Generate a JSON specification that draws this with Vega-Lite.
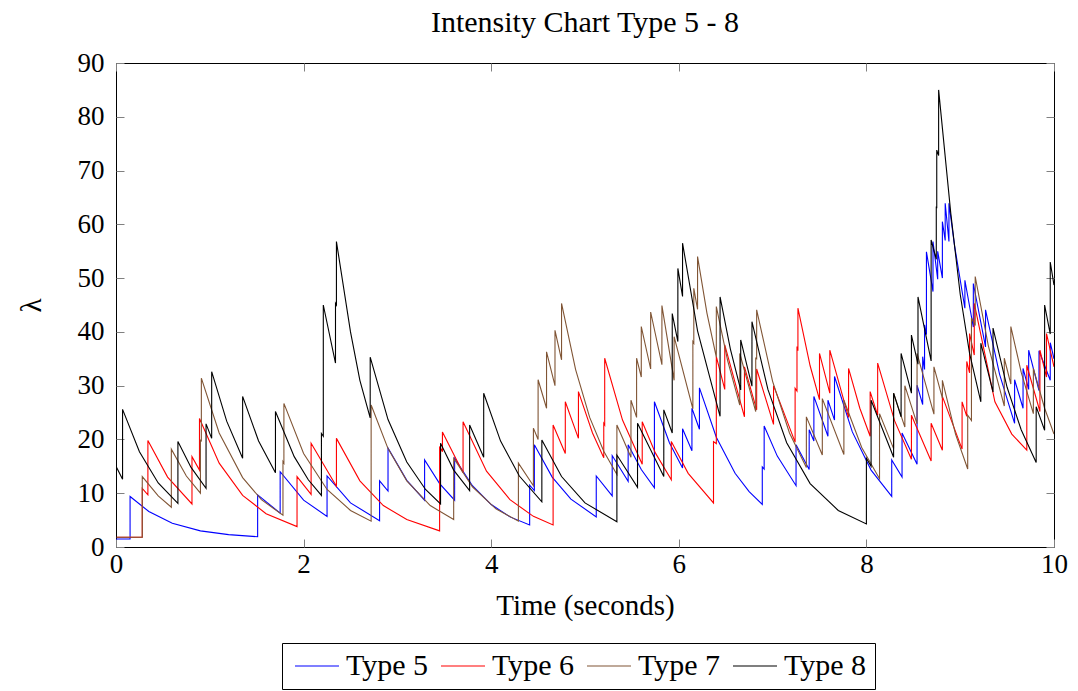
{
  "$schema": "https://vega.github.io/schema/vega-lite/v6.json",
  "width": 938,
  "height": 484,
  "autosize": {"type": "none"},
  "padding": {"left": 116, "top": 63, "right": 24, "bottom": 144},
  "background": "#ffffff",
  "config": {
    "view": {"stroke": "#000000", "strokeWidth": 1},
    "font": "Liberation Serif",
    "axis": {
      "labelFont": "Liberation Serif", "titleFont": "Liberation Serif",
      "labelFontSize": 27, "titleFontSize": 29, "titleFontWeight": "normal",
      "labelColor": "#000000", "titleColor": "#000000",
      "domain": false, "grid": false, "labelFlush": false,
      "tickColor": "#808080", "tickSize": -8, "tickWidth": 1
    }
  },
  "title": {"text": "Intensity Chart Type 5 - 8", "font": "Liberation Serif", "fontSize": 30, "fontWeight": "normal", "color": "#000000", "anchor": "middle", "baseline": "alphabetic", "offset": 10, "dy": 23},
  "data": {"values": [
    {"s":"Type 5","t":0,"v":1.5},{"s":"Type 5","t":0.15,"v":1.5},{"s":"Type 5","t":0.15,"v":9.4},{"s":"Type 5","t":0.35,"v":6.6},{"s":"Type 5","t":0.6,"v":4.4},{"s":"Type 5","t":0.9,"v":3.0},{"s":"Type 5","t":1.2,"v":2.3},{"s":"Type 5","t":1.51,"v":1.9},{"s":"Type 5","t":1.51,"v":9.7},{"s":"Type 5","t":1.75,"v":6.3},{"s":"Type 5","t":1.75,"v":14.0},{"s":"Type 5","t":2.0,"v":8.7},{"s":"Type 5","t":2.25,"v":5.7},{"s":"Type 5","t":2.25,"v":13.2},{"s":"Type 5","t":2.5,"v":8.2},{"s":"Type 5","t":2.81,"v":4.9},{"s":"Type 5","t":2.81,"v":12.3},{"s":"Type 5","t":2.9,"v":10.4},{"s":"Type 5","t":2.9,"v":18.4},{"s":"Type 5","t":3.1,"v":12.4},{"s":"Type 5","t":3.29,"v":8.7},{"s":"Type 5","t":3.29,"v":16.2},{"s":"Type 5","t":3.45,"v":11.8},{"s":"Type 5","t":3.61,"v":8.7},{"s":"Type 5","t":3.61,"v":16.5},{"s":"Type 5","t":3.8,"v":11.4},{"s":"Type 5","t":4.0,"v":7.9},{"s":"Type 5","t":4.2,"v":5.6},{"s":"Type 5","t":4.41,"v":4.1},{"s":"Type 5","t":4.41,"v":11.5},{"s":"Type 5","t":4.46,"v":10.5},{"s":"Type 5","t":4.46,"v":19.0},{"s":"Type 5","t":4.65,"v":13.0},{"s":"Type 5","t":4.85,"v":8.9},{"s":"Type 5","t":5.12,"v":5.6},{"s":"Type 5","t":5.12,"v":13.2},{"s":"Type 5","t":5.29,"v":9.5},{"s":"Type 5","t":5.29,"v":17.0},{"s":"Type 5","t":5.46,"v":12.2},{"s":"Type 5","t":5.46,"v":19.0},{"s":"Type 5","t":5.6,"v":14.4},{"s":"Type 5","t":5.74,"v":11.0},{"s":"Type 5","t":5.74,"v":27.0},{"s":"Type 5","t":5.9,"v":19.4},{"s":"Type 5","t":6.04,"v":14.7},{"s":"Type 5","t":6.04,"v":22.0},{"s":"Type 5","t":6.14,"v":17.9},{"s":"Type 5","t":6.14,"v":25.8},{"s":"Type 5","t":6.22,"v":21.9},{"s":"Type 5","t":6.22,"v":29.6},{"s":"Type 5","t":6.4,"v":20.4},{"s":"Type 5","t":6.6,"v":13.7},{"s":"Type 5","t":6.75,"v":10.3},{"s":"Type 5","t":6.89,"v":7.9},{"s":"Type 5","t":6.89,"v":14.9},{"s":"Type 5","t":6.91,"v":14.5},{"s":"Type 5","t":6.91,"v":22.5},{"s":"Type 5","t":7.05,"v":16.9},{"s":"Type 5","t":7.25,"v":11.4},{"s":"Type 5","t":7.25,"v":19.0},{"s":"Type 5","t":7.39,"v":14.4},{"s":"Type 5","t":7.39,"v":21.8},{"s":"Type 5","t":7.44,"v":19.7},{"s":"Type 5","t":7.44,"v":28.0},{"s":"Type 5","t":7.59,"v":20.6},{"s":"Type 5","t":7.59,"v":27.3},{"s":"Type 5","t":7.66,"v":23.6},{"s":"Type 5","t":7.66,"v":31.7},{"s":"Type 5","t":7.85,"v":21.4},{"s":"Type 5","t":8.05,"v":14.3},{"s":"Type 5","t":8.27,"v":9.4},{"s":"Type 5","t":8.27,"v":16.2},{"s":"Type 5","t":8.38,"v":13.0},{"s":"Type 5","t":8.38,"v":21.2},{"s":"Type 5","t":8.54,"v":15.4},{"s":"Type 5","t":8.54,"v":30.1},{"s":"Type 5","t":8.6,"v":26.5},{"s":"Type 5","t":8.6,"v":35.4},{"s":"Type 5","t":8.62,"v":33.0},{"s":"Type 5","t":8.62,"v":41.3},{"s":"Type 5","t":8.64,"v":39.5},{"s":"Type 5","t":8.64,"v":54.9},{"s":"Type 5","t":8.71,"v":47.5},{"s":"Type 5","t":8.71,"v":56.8},{"s":"Type 5","t":8.76,"v":49.8},{"s":"Type 5","t":8.76,"v":55.0},{"s":"Type 5","t":8.81,"v":50.0},{"s":"Type 5","t":8.81,"v":60.5},{"s":"Type 5","t":8.84,"v":57.0},{"s":"Type 5","t":8.84,"v":63.9},{"s":"Type 5","t":8.88,"v":56.8},{"s":"Type 5","t":8.88,"v":63.9},{"s":"Type 5","t":8.94,"v":56.0},{"s":"Type 5","t":9.05,"v":44.4},{"s":"Type 5","t":9.05,"v":49.6},{"s":"Type 5","t":9.14,"v":40.9},{"s":"Type 5","t":9.14,"v":49.0},{"s":"Type 5","t":9.27,"v":37.2},{"s":"Type 5","t":9.27,"v":44.1},{"s":"Type 5","t":9.42,"v":32.1},{"s":"Type 5","t":9.58,"v":23.0},{"s":"Type 5","t":9.58,"v":31.1},{"s":"Type 5","t":9.67,"v":25.8},{"s":"Type 5","t":9.67,"v":33.2},{"s":"Type 5","t":9.73,"v":29.3},{"s":"Type 5","t":9.73,"v":36.6},{"s":"Type 5","t":9.84,"v":29.1},{"s":"Type 5","t":9.84,"v":36.5},{"s":"Type 5","t":9.96,"v":31.0},{"s":"Type 5","t":9.96,"v":38.0},{"s":"Type 5","t":10.0,"v":35.0},
    {"s":"Type 6","t":0,"v":1.8},{"s":"Type 6","t":0.28,"v":1.8},{"s":"Type 6","t":0.28,"v":10.9},{"s":"Type 6","t":0.34,"v":9.7},{"s":"Type 6","t":0.34,"v":19.8},{"s":"Type 6","t":0.55,"v":13.0},{"s":"Type 6","t":0.81,"v":8.0},{"s":"Type 6","t":0.81,"v":16.8},{"s":"Type 6","t":0.89,"v":14.3},{"s":"Type 6","t":0.89,"v":23.9},{"s":"Type 6","t":1.1,"v":15.6},{"s":"Type 6","t":1.35,"v":9.6},{"s":"Type 6","t":1.6,"v":6.2},{"s":"Type 6","t":1.93,"v":3.8},{"s":"Type 6","t":1.93,"v":13.1},{"s":"Type 6","t":2.08,"v":9.8},{"s":"Type 6","t":2.08,"v":19.3},{"s":"Type 6","t":2.35,"v":11.3},{"s":"Type 6","t":2.35,"v":20.2},{"s":"Type 6","t":2.6,"v":12.3},{"s":"Type 6","t":2.85,"v":7.7},{"s":"Type 6","t":3.1,"v":5.1},{"s":"Type 6","t":3.45,"v":3.0},{"s":"Type 6","t":3.45,"v":18.7},{"s":"Type 6","t":3.48,"v":17.7},{"s":"Type 6","t":3.48,"v":21.4},{"s":"Type 6","t":3.7,"v":13.8},{"s":"Type 6","t":3.7,"v":23.3},{"s":"Type 6","t":3.95,"v":14.1},{"s":"Type 6","t":4.2,"v":8.8},{"s":"Type 6","t":4.45,"v":5.7},{"s":"Type 6","t":4.66,"v":4.1},{"s":"Type 6","t":4.66,"v":22.7},{"s":"Type 6","t":4.79,"v":17.4},{"s":"Type 6","t":4.79,"v":27.0},{"s":"Type 6","t":4.93,"v":20.2},{"s":"Type 6","t":4.93,"v":28.9},{"s":"Type 6","t":5.08,"v":21.2},{"s":"Type 6","t":5.2,"v":16.6},{"s":"Type 6","t":5.2,"v":23.0},{"s":"Type 6","t":5.21,"v":22.7},{"s":"Type 6","t":5.21,"v":35.1},{"s":"Type 6","t":5.4,"v":23.6},{"s":"Type 6","t":5.61,"v":15.4},{"s":"Type 6","t":5.61,"v":23.3},{"s":"Type 6","t":5.75,"v":17.5},{"s":"Type 6","t":5.92,"v":12.5},{"s":"Type 6","t":5.92,"v":19.6},{"s":"Type 6","t":6.1,"v":13.7},{"s":"Type 6","t":6.37,"v":8.2},{"s":"Type 6","t":6.37,"v":19.6},{"s":"Type 6","t":6.4,"v":19.2},{"s":"Type 6","t":6.4,"v":35.4},{"s":"Type 6","t":6.49,"v":29.3},{"s":"Type 6","t":6.49,"v":37.6},{"s":"Type 6","t":6.7,"v":24.2},{"s":"Type 6","t":6.7,"v":33.5},{"s":"Type 6","t":6.83,"v":25.5},{"s":"Type 6","t":6.83,"v":33.1},{"s":"Type 6","t":7.01,"v":22.8},{"s":"Type 6","t":7.01,"v":30.0},{"s":"Type 6","t":7.24,"v":19.5},{"s":"Type 6","t":7.24,"v":29.5},{"s":"Type 6","t":7.26,"v":29.0},{"s":"Type 6","t":7.26,"v":37.3},{"s":"Type 6","t":7.27,"v":36.5},{"s":"Type 6","t":7.27,"v":44.4},{"s":"Type 6","t":7.4,"v":33.7},{"s":"Type 6","t":7.5,"v":27.4},{"s":"Type 6","t":7.5,"v":36.0},{"s":"Type 6","t":7.61,"v":28.6},{"s":"Type 6","t":7.61,"v":36.6},{"s":"Type 6","t":7.81,"v":24.1},{"s":"Type 6","t":7.81,"v":33.2},{"s":"Type 6","t":7.93,"v":25.8},{"s":"Type 6","t":8.04,"v":20.6},{"s":"Type 6","t":8.04,"v":28.9},{"s":"Type 6","t":8.12,"v":24.5},{"s":"Type 6","t":8.12,"v":34.2},{"s":"Type 6","t":8.3,"v":23.5},{"s":"Type 6","t":8.48,"v":16.3},{"s":"Type 6","t":8.48,"v":24.5},{"s":"Type 6","t":8.69,"v":16.0},{"s":"Type 6","t":8.69,"v":23.0},{"s":"Type 6","t":8.81,"v":18.0},{"s":"Type 6","t":8.81,"v":28.0},{"s":"Type 6","t":9.02,"v":18.2},{"s":"Type 6","t":9.02,"v":27.0},{"s":"Type 6","t":9.07,"v":24.3},{"s":"Type 6","t":9.07,"v":34.5},{"s":"Type 6","t":9.1,"v":32.4},{"s":"Type 6","t":9.1,"v":39.7},{"s":"Type 6","t":9.15,"v":35.7},{"s":"Type 6","t":9.15,"v":45.3},{"s":"Type 6","t":9.37,"v":27.0},{"s":"Type 6","t":9.55,"v":21.0},{"s":"Type 6","t":9.71,"v":18.0},{"s":"Type 6","t":9.71,"v":33.8},{"s":"Type 6","t":9.85,"v":25.2},{"s":"Type 6","t":9.85,"v":36.6},{"s":"Type 6","t":9.92,"v":31.6},{"s":"Type 6","t":9.92,"v":39.7},{"s":"Type 6","t":10.0,"v":33.5},
    {"s":"Type 7","t":0,"v":1.8},{"s":"Type 7","t":0.28,"v":1.8},{"s":"Type 7","t":0.28,"v":13.1},{"s":"Type 7","t":0.45,"v":9.5},{"s":"Type 7","t":0.59,"v":7.4},{"s":"Type 7","t":0.59,"v":18.2},{"s":"Type 7","t":0.75,"v":13.2},{"s":"Type 7","t":0.9,"v":10.0},{"s":"Type 7","t":0.9,"v":20.0},{"s":"Type 7","t":0.91,"v":19.6},{"s":"Type 7","t":0.91,"v":31.4},{"s":"Type 7","t":1.1,"v":21.2},{"s":"Type 7","t":1.35,"v":12.9},{"s":"Type 7","t":1.55,"v":8.8},{"s":"Type 7","t":1.78,"v":5.9},{"s":"Type 7","t":1.78,"v":15.9},{"s":"Type 7","t":1.79,"v":15.6},{"s":"Type 7","t":1.79,"v":26.7},{"s":"Type 7","t":2.0,"v":17.4},{"s":"Type 7","t":2.25,"v":10.7},{"s":"Type 7","t":2.5,"v":6.8},{"s":"Type 7","t":2.72,"v":4.8},{"s":"Type 7","t":2.72,"v":26.4},{"s":"Type 7","t":2.9,"v":18.3},{"s":"Type 7","t":3.1,"v":12.3},{"s":"Type 7","t":3.35,"v":7.7},{"s":"Type 7","t":3.6,"v":5.1},{"s":"Type 7","t":3.6,"v":16.5},{"s":"Type 7","t":3.8,"v":11.2},{"s":"Type 7","t":4.05,"v":7.1},{"s":"Type 7","t":4.29,"v":4.8},{"s":"Type 7","t":4.29,"v":15.6},{"s":"Type 7","t":4.45,"v":11.4},{"s":"Type 7","t":4.45,"v":22.1},{"s":"Type 7","t":4.5,"v":20.0},{"s":"Type 7","t":4.5,"v":31.1},{"s":"Type 7","t":4.59,"v":25.8},{"s":"Type 7","t":4.59,"v":36.3},{"s":"Type 7","t":4.68,"v":30.0},{"s":"Type 7","t":4.68,"v":40.3},{"s":"Type 7","t":4.75,"v":34.8},{"s":"Type 7","t":4.75,"v":45.3},{"s":"Type 7","t":4.9,"v":33.0},{"s":"Type 7","t":5.05,"v":24.1},{"s":"Type 7","t":5.2,"v":17.8},{"s":"Type 7","t":5.34,"v":13.5},{"s":"Type 7","t":5.34,"v":22.7},{"s":"Type 7","t":5.49,"v":16.7},{"s":"Type 7","t":5.49,"v":27.3},{"s":"Type 7","t":5.55,"v":24.1},{"s":"Type 7","t":5.55,"v":35.1},{"s":"Type 7","t":5.6,"v":31.6},{"s":"Type 7","t":5.6,"v":41.0},{"s":"Type 7","t":5.7,"v":33.1},{"s":"Type 7","t":5.7,"v":43.7},{"s":"Type 7","t":5.82,"v":33.9},{"s":"Type 7","t":5.82,"v":44.9},{"s":"Type 7","t":5.95,"v":31.0},{"s":"Type 7","t":5.95,"v":39.1},{"s":"Type 7","t":6.15,"v":25.7},{"s":"Type 7","t":6.15,"v":38.2},{"s":"Type 7","t":6.16,"v":37.9},{"s":"Type 7","t":6.16,"v":48.1},{"s":"Type 7","t":6.2,"v":44.2},{"s":"Type 7","t":6.2,"v":54.0},{"s":"Type 7","t":6.3,"v":43.5},{"s":"Type 7","t":6.4,"v":35.3},{"s":"Type 7","t":6.4,"v":44.7},{"s":"Type 7","t":6.52,"v":34.7},{"s":"Type 7","t":6.65,"v":26.4},{"s":"Type 7","t":6.65,"v":36.0},{"s":"Type 7","t":6.82,"v":25.2},{"s":"Type 7","t":6.82,"v":35.1},{"s":"Type 7","t":6.83,"v":35.0},{"s":"Type 7","t":6.83,"v":44.1},{"s":"Type 7","t":7.0,"v":30.8},{"s":"Type 7","t":7.18,"v":21.2},{"s":"Type 7","t":7.36,"v":14.8},{"s":"Type 7","t":7.36,"v":24.2},{"s":"Type 7","t":7.53,"v":17.1},{"s":"Type 7","t":7.53,"v":27.6},{"s":"Type 7","t":7.76,"v":17.2},{"s":"Type 7","t":7.76,"v":27.3},{"s":"Type 7","t":7.95,"v":18.5},{"s":"Type 7","t":8.14,"v":12.7},{"s":"Type 7","t":8.14,"v":24.8},{"s":"Type 7","t":8.29,"v":18.3},{"s":"Type 7","t":8.29,"v":28.6},{"s":"Type 7","t":8.41,"v":22.3},{"s":"Type 7","t":8.41,"v":30.0},{"s":"Type 7","t":8.54,"v":22.9},{"s":"Type 7","t":8.54,"v":36.0},{"s":"Type 7","t":8.72,"v":24.7},{"s":"Type 7","t":8.72,"v":33.5},{"s":"Type 7","t":8.81,"v":27.7},{"s":"Type 7","t":8.81,"v":31.0},{"s":"Type 7","t":8.95,"v":21.0},{"s":"Type 7","t":9.08,"v":14.5},{"s":"Type 7","t":9.08,"v":24.5},{"s":"Type 7","t":9.12,"v":23.5},{"s":"Type 7","t":9.12,"v":42.6},{"s":"Type 7","t":9.16,"v":41.2},{"s":"Type 7","t":9.16,"v":50.3},{"s":"Type 7","t":9.3,"v":37.4},{"s":"Type 7","t":9.47,"v":26.2},{"s":"Type 7","t":9.47,"v":35.1},{"s":"Type 7","t":9.54,"v":30.3},{"s":"Type 7","t":9.54,"v":41.0},{"s":"Type 7","t":9.65,"v":32.5},{"s":"Type 7","t":9.78,"v":24.8},{"s":"Type 7","t":9.78,"v":33.2},{"s":"Type 7","t":9.9,"v":25.8},{"s":"Type 7","t":10.0,"v":21.0},
    {"s":"Type 8","t":0,"v":1.5},{"s":"Type 8","t":0,"v":15.0},{"s":"Type 8","t":0.07,"v":12.6},{"s":"Type 8","t":0.07,"v":25.6},{"s":"Type 8","t":0.25,"v":17.7},{"s":"Type 8","t":0.45,"v":11.9},{"s":"Type 8","t":0.66,"v":8.1},{"s":"Type 8","t":0.66,"v":19.6},{"s":"Type 8","t":0.8,"v":14.8},{"s":"Type 8","t":0.96,"v":10.9},{"s":"Type 8","t":0.96,"v":22.9},{"s":"Type 8","t":1.02,"v":20.2},{"s":"Type 8","t":1.02,"v":32.6},{"s":"Type 8","t":1.18,"v":23.4},{"s":"Type 8","t":1.35,"v":16.5},{"s":"Type 8","t":1.35,"v":28.0},{"s":"Type 8","t":1.52,"v":19.7},{"s":"Type 8","t":1.7,"v":13.8},{"s":"Type 8","t":1.7,"v":25.2},{"s":"Type 8","t":1.9,"v":16.8},{"s":"Type 8","t":2.05,"v":12.5},{"s":"Type 8","t":2.19,"v":9.6},{"s":"Type 8","t":2.19,"v":21.1},{"s":"Type 8","t":2.21,"v":20.6},{"s":"Type 8","t":2.21,"v":45.0},{"s":"Type 8","t":2.34,"v":34.2},{"s":"Type 8","t":2.34,"v":45.3},{"s":"Type 8","t":2.35,"v":45.0},{"s":"Type 8","t":2.35,"v":56.8},{"s":"Type 8","t":2.5,"v":40.0},{"s":"Type 8","t":2.6,"v":31.0},{"s":"Type 8","t":2.71,"v":24.0},{"s":"Type 8","t":2.71,"v":35.3},{"s":"Type 8","t":2.9,"v":23.7},{"s":"Type 8","t":3.1,"v":15.8},{"s":"Type 8","t":3.3,"v":10.7},{"s":"Type 8","t":3.46,"v":8.0},{"s":"Type 8","t":3.46,"v":19.3},{"s":"Type 8","t":3.6,"v":14.3},{"s":"Type 8","t":3.77,"v":10.5},{"s":"Type 8","t":3.77,"v":22.7},{"s":"Type 8","t":3.92,"v":16.7},{"s":"Type 8","t":3.92,"v":28.6},{"s":"Type 8","t":4.1,"v":19.7},{"s":"Type 8","t":4.3,"v":13.2},{"s":"Type 8","t":4.54,"v":8.4},{"s":"Type 8","t":4.54,"v":19.9},{"s":"Type 8","t":4.75,"v":13.1},{"s":"Type 8","t":5.0,"v":8.2},{"s":"Type 8","t":5.34,"v":4.7},{"s":"Type 8","t":5.34,"v":17.1},{"s":"Type 8","t":5.56,"v":11.1},{"s":"Type 8","t":5.56,"v":23.0},{"s":"Type 8","t":5.84,"v":13.1},{"s":"Type 8","t":5.84,"v":25.5},{"s":"Type 8","t":5.93,"v":21.2},{"s":"Type 8","t":5.93,"v":43.4},{"s":"Type 8","t":5.99,"v":38.2},{"s":"Type 8","t":5.99,"v":51.8},{"s":"Type 8","t":6.04,"v":46.6},{"s":"Type 8","t":6.04,"v":56.5},{"s":"Type 8","t":6.2,"v":40.2},{"s":"Type 8","t":6.44,"v":24.3},{"s":"Type 8","t":6.44,"v":46.5},{"s":"Type 8","t":6.55,"v":36.8},{"s":"Type 8","t":6.66,"v":29.2},{"s":"Type 8","t":6.66,"v":38.5},{"s":"Type 8","t":6.78,"v":29.9},{"s":"Type 8","t":6.78,"v":41.9},{"s":"Type 8","t":6.95,"v":29.3},{"s":"Type 8","t":7.15,"v":19.4},{"s":"Type 8","t":7.4,"v":11.8},{"s":"Type 8","t":7.7,"v":6.8},{"s":"Type 8","t":8.0,"v":4.3},{"s":"Type 8","t":8.0,"v":16.5},{"s":"Type 8","t":8.05,"v":15.0},{"s":"Type 8","t":8.05,"v":27.3},{"s":"Type 8","t":8.29,"v":16.7},{"s":"Type 8","t":8.29,"v":28.6},{"s":"Type 8","t":8.37,"v":24.2},{"s":"Type 8","t":8.37,"v":36.0},{"s":"Type 8","t":8.48,"v":28.6},{"s":"Type 8","t":8.48,"v":39.4},{"s":"Type 8","t":8.55,"v":34.0},{"s":"Type 8","t":8.55,"v":46.5},{"s":"Type 8","t":8.69,"v":34.6},{"s":"Type 8","t":8.69,"v":57.1},{"s":"Type 8","t":8.745,"v":53.5},{"s":"Type 8","t":8.745,"v":63.3},{"s":"Type 8","t":8.75,"v":63.0},{"s":"Type 8","t":8.75,"v":73.8},{"s":"Type 8","t":8.77,"v":72.8},{"s":"Type 8","t":8.77,"v":85.0},{"s":"Type 8","t":8.9,"v":62.0},{"s":"Type 8","t":9.0,"v":47.0},{"s":"Type 8","t":9.1,"v":36.0},{"s":"Type 8","t":9.22,"v":27.0},{"s":"Type 8","t":9.22,"v":37.9},{"s":"Type 8","t":9.35,"v":28.8},{"s":"Type 8","t":9.35,"v":40.7},{"s":"Type 8","t":9.5,"v":29.7},{"s":"Type 8","t":9.65,"v":21.8},{"s":"Type 8","t":9.81,"v":15.7},{"s":"Type 8","t":9.81,"v":26.1},{"s":"Type 8","t":9.9,"v":21.7},{"s":"Type 8","t":9.9,"v":45.0},{"s":"Type 8","t":9.96,"v":39.6},{"s":"Type 8","t":9.96,"v":53.0},{"s":"Type 8","t":10.0,"v":48.7}
  ]},
  "layer": [
    {
      "mark": {"type": "line", "strokeWidth": 1.1, "interpolate": "linear", "clip": true},
      "encoding": {
        "x": {"field": "t", "type": "quantitative", "scale": {"domain": [0, 10], "nice": false, "zero": false},
              "axis": {"orient": "bottom", "values": [0, 2, 4, 6, 8, 10], "format": "d", "labelPadding": 12, "title": "Time (seconds)", "titlePadding": 14}},
        "y": {"field": "v", "type": "quantitative", "scale": {"domain": [0, 90], "nice": false},
              "axis": {"orient": "left", "values": [0, 10, 20, 30, 40, 50, 60, 70, 80, 90], "labelPadding": 20, "title": "λ", "titlePadding": 31}},
        "color": {"field": "s", "type": "nominal",
                  "scale": {"domain": ["Type 5", "Type 6", "Type 7", "Type 8"], "range": ["#0000ff", "#ff0000", "#805535", "#000000"]},
                  "legend": {"orient": "none", "legendX": 166, "legendY": 580, "direction": "horizontal", "columns": 4, "title": null,
                             "symbolType": "M-1,0H3.4", "symbolSize": 400, "symbolStrokeWidth": 1.1,
                             "labelFont": "Liberation Serif", "labelFontSize": 30, "labelColor": "#000000", "labelOffset": 26,
                             "columnPadding": 7, "padding": 8, "strokeColor": "#000000", "fillColor": "#ffffff"}},
        "order": {"value": null}
      }
    },
    {
      "data": {"values": []},
      "mark": {"type": "point", "opacity": 0},
      "encoding": {
        "x": {"field": "t", "type": "quantitative", "axis": {"orient": "top", "values": [0, 2, 4, 6, 8, 10], "labels": false, "title": null}},
        "y": {"field": "v", "type": "quantitative", "axis": {"orient": "right", "values": [0, 10, 20, 30, 40, 50, 60, 70, 80, 90], "labels": false, "title": null}}
      }
    }
  ],
  "resolve": {"axis": {"x": "independent", "y": "independent"}}
}
